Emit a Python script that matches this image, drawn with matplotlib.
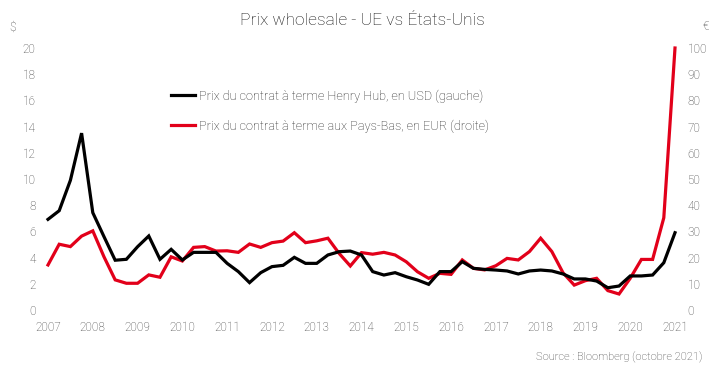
import numpy as np
import matplotlib
matplotlib.use('Agg')
import matplotlib.pyplot as plt

plt.rcParams['font.family'] = ['Roboto', 'DejaVu Sans']
plt.rcParams['font.weight'] = 'light'

# quarterly prices, 2007 Q1 -> 2021
henry_hub = [6.92, 7.58, 9.9, 13.5, 7.43, 5.6, 3.8, 3.87, 4.83, 5.65,
             3.87, 4.63, 3.82, 4.4, 4.4, 4.4, 3.56, 2.93, 2.09, 2.85,
             3.31, 3.41, 4.02, 3.56, 3.56, 4.2, 4.45, 4.5, 4.2, 2.93,
             2.67, 2.85, 2.54, 2.29, 1.96, 2.93, 2.93, 3.69, 3.18, 3.1,
             3.05, 2.98, 2.75, 2.98, 3.05, 2.98, 2.75, 2.37, 2.37, 2.21,
             1.70, 1.83, 2.6, 2.6, 2.67, 3.61, 5.9]
ttf = [17.2, 25.1, 24.2, 28.2, 30.2, 20.3, 11.5, 10.2, 10.2, 13.4,
       12.5, 20.3, 18.7, 23.9, 24.2, 22.5, 22.6, 22.0, 25.2, 23.9,
       25.7, 26.3, 29.5, 25.7, 26.4, 27.4, 21.6, 16.8, 21.9, 21.3,
       22.0, 21.0, 18.4, 14.6, 12.1, 14.0, 13.6, 19.1, 15.9, 15.3,
       16.9, 19.7, 19.1, 22.3, 27.4, 22.3, 14.2, 9.5, 11.2, 12.1,
       7.4, 6.1, 12.1, 19.3, 19.3, 35.2, 100]
years = list(range(2007, 2022))
x = 2007 + np.arange(len(henry_hub)) * 0.25

label_hh = 'Prix du contrat à terme Henry Hub, en USD (gauche)'
label_ttf = 'Prix du contrat à terme aux Pays-Bas, en EUR (droite)'

grey = '#404040'
red = '#E2001A'

fig = plt.figure(figsize=(7.25, 3.74), dpi=100)
ax = fig.add_axes([48/725, 64/374, 627/725, 262/374])
ax2 = ax.twinx()

l2, = ax2.plot(x, ttf, color=red, lw=2.3, clip_on=False, solid_joinstyle='miter')
l1, = ax.plot(x, henry_hub, color='black', lw=2.3, clip_on=False, solid_joinstyle='miter')
ax.set_zorder(ax2.get_zorder() + 1)
ax.patch.set_visible(False)

ax.set_xlim(2007, 2021)
ax.set_ylim(0, 20)
ax2.set_ylim(0, 100)
ax.set_yticks(range(0, 21, 2))
ax2.set_yticks(range(0, 101, 10))
ax.set_xticks(years)
ax.set_xticklabels([str(y) for y in years])

for a in (ax, ax2):
    for s in a.spines.values():
        s.set_visible(False)
    a.tick_params(length=0, labelsize=8.5, colors=grey)
ax.tick_params(axis='y', pad=9)
ax2.tick_params(axis='y', pad=9)
ax.tick_params(axis='x', pad=8)

fig.text(0.5, 0.945, 'Prix wholesale - UE vs États-Unis', ha='center', va='center',
         fontsize=12.5, color='#111111')
fig.text(13/725, 1 - 27/374, '$', ha='center', va='center', fontsize=8.5, color=grey)
fig.text(706/725, 1 - 27/374, '€', ha='center', va='center', fontsize=8.5, color=grey)
fig.text(702/725, 1 - 357/374, 'Source : Bloomberg (octobre 2021)', ha='right', va='center',
         fontsize=8, color=grey)

leg = ax.legend([l1, l2], [label_hh, label_ttf], loc='center left',
                bbox_to_anchor=(159/725, 1 - 111/374), bbox_transform=fig.transFigure,
                frameon=False, fontsize=9.2, handlelength=1.9, handletextpad=0.3,
                labelspacing=1.3, labelcolor='#262626')

fig.savefig('out.png', dpi=100)
